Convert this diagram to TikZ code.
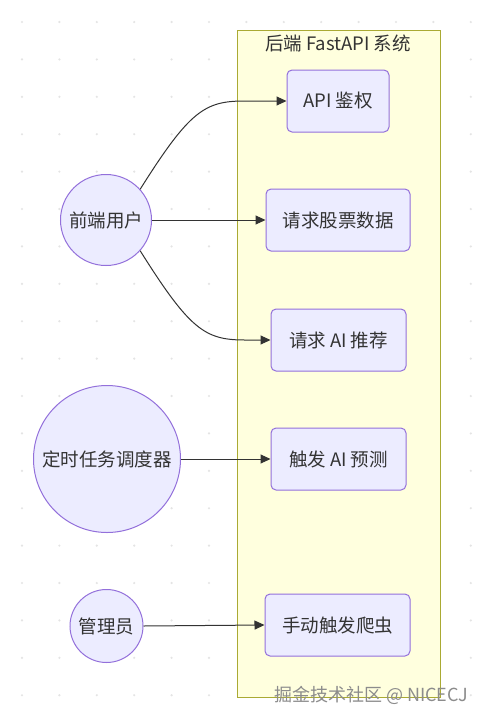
\documentclass[tikz,border=0pt]{standalone}
\usepackage{fontspec}
\setmainfont{Noto Sans CJK SC}
\newfontfamily\cjk{Noto Sans CJK SC}
\usetikzlibrary{arrows.meta}
\definecolor{nodefill}{HTML}{ECECFF}
\definecolor{nodeline}{HTML}{9370DB}
\definecolor{clusterfill}{HTML}{FFFFDE}
\definecolor{clusterline}{HTML}{AAAA33}
\definecolor{txt}{HTML}{333333}
\definecolor{dotc}{HTML}{E4E4E4}
\tikzset{
  boxnode/.style={draw=nodeline, fill=nodefill, line width=1pt, rounded corners=5pt,
    minimum height=62pt, inner sep=0pt, text=txt, font=\cjk\fontsize{18.5}{22}\selectfont},
  circnode/.style={circle, draw=nodeline, fill=nodefill, line width=1pt, inner sep=0pt,
    text=txt, font=\cjk\fontsize{18.5}{22}\selectfont},
  edge/.style={draw=txt, line width=1pt, -{Triangle[length=10pt,width=9pt]}},
}
\begin{document}
\begin{tikzpicture}[x=1pt,y=-1pt]
\useasboundingbox (0,0) rectangle (487,721);
\fill[white] (0,0) rectangle (487,721);
% dot grid
\foreach \i in {0,...,12} {
  \foreach \j in {0,...,18} {
    \fill[dotc] (22+37.4*\i, 22+37.4*\j) circle (1.2pt);
  }
}
% cluster
\node[draw=clusterline, fill=clusterfill, line width=1pt, minimum width=203pt, minimum height=667pt, inner sep=0pt] (cluster) at (338.5,363.5) {};
\node[text=txt, font=\cjk\fontsize{18.5}{22}\selectfont] (title) at (338,43) {后端 FastAPI 系统};
% boxes
\node[boxnode, minimum width=102pt] (api) at (338,101) {API 鉴权};
\node[boxnode, minimum width=144pt] (stock) at (338,220) {请求股票数据};
\node[boxnode, minimum width=135pt] (rec) at (338.5,340) {请求 AI 推荐};
\node[boxnode, minimum width=135pt] (pred) at (338.5,459) {触发 AI 预测};
\node[boxnode, minimum width=145pt] (crawl) at (337.5,625) {手动触发爬虫};
% circles
\node[circnode, minimum size=91pt] (fe) at (106,220) {前端用户};
\node[circnode, minimum size=147pt] (sched) at (107,459) {定时任务调度器};
\node[circnode, minimum size=73pt] (admin) at (106.5,626) {管理员};
% edges
\draw[edge] (fe.42) .. controls (190,110) and (205,101) .. (245,101) -- (api.west);
\draw[edge] (fe.east) -- (stock.west);
\draw[edge] (fe.-42) .. controls (190,330) and (205,340) .. (245,340) -- (rec.west);
\draw[edge] (sched.east) -- (pred.west);
\draw[edge] (admin.east) -- (crawl.west);
% watermark
\node[text=black!45, font=\cjk\fontsize{18}{21}\selectfont, anchor=east] (wm) at (472,695) {掘金技术社区 @ NICECJ};
\end{tikzpicture}
\end{document}
